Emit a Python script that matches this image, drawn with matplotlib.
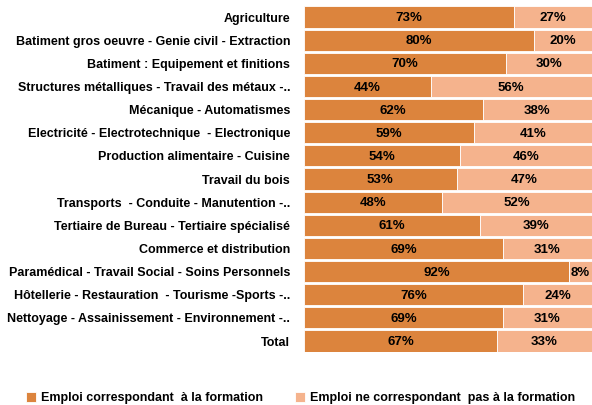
import numpy as np
import matplotlib.pyplot as plt

plt.rcParams['font.family'] = ['Liberation Sans', 'DejaVu Sans']

categories = ["Agriculture",
              "Batiment gros oeuvre - Genie civil - Extraction",
              "Batiment : Equipement et finitions",
              "Structures métalliques - Travail des métaux -..",
              "Mécanique - Automatismes",
              "Electricité - Electrotechnique  - Electronique",
              "Production alimentaire - Cuisine",
              "Travail du bois",
              "Transports  - Conduite - Manutention -..",
              "Tertiaire de Bureau - Tertiaire spécialisé",
              "Commerce et distribution",
              "Paramédical - Travail Social - Soins Personnels",
              "Hôtellerie - Restauration  - Tourisme -Sports -..",
              "Nettoyage - Assainissement - Environnement -..",
              "Total"]
correspondant = [73, 80, 70, 44, 62, 59, 54, 53, 48, 61, 69, 92, 76, 69, 67]
non_correspondant = [27, 20, 30, 56, 38, 41, 46, 47, 52, 39, 31, 8, 24, 31, 33]
series_names = ["Emploi correspondant  à la formation",
                "Emploi ne correspondant  pas à la formation"]

c_dark = '#DC843D'
c_light = '#F5B38D'

fig = plt.figure(figsize=(5.92, 4.05), dpi=100)
ax = fig.add_axes([0.5135, 0.132, 0.4865, 0.852])

y = np.arange(len(categories))
h = 0.91
a = np.array(correspondant)
b = np.array(non_correspondant)
ax.barh(y, a, height=h, color=c_dark, edgecolor='white', linewidth=0.6, label=series_names[0])
ax.barh(y, b, left=a, height=h, color=c_light, edgecolor='white', linewidth=0.6, label=series_names[1])

for i in range(len(y)):
    ax.text(a[i] / 2, y[i] + 0.05, "%d%%" % a[i], ha='center', va='center', fontsize=9.5, fontweight='bold')
    ax.text(a[i] + b[i] / 2, y[i] + 0.05, "%d%%" % b[i], ha='center', va='center', fontsize=9.5, fontweight='bold')

ax.set_xlim(0, 100)
ax.set_ylim(len(y) - 1 + h / 2, -h / 2)
ax.set_yticks(y)
ax.set_yticklabels(categories, fontsize=9, fontweight='bold')
ax.tick_params(axis='y', length=0, pad=10)
ax.set_xticks([])
for s in ax.spines.values():
    s.set_visible(False)

fig.legend(loc='lower left', bbox_to_anchor=(0.029, -0.02), ncol=2, frameon=False,
           prop={'size': 9, 'weight': 'bold'}, handlelength=0.8, handleheight=0.8,
           handletextpad=0.4, columnspacing=2.6, borderaxespad=0.3)

fig.savefig('out.png', dpi=100)
